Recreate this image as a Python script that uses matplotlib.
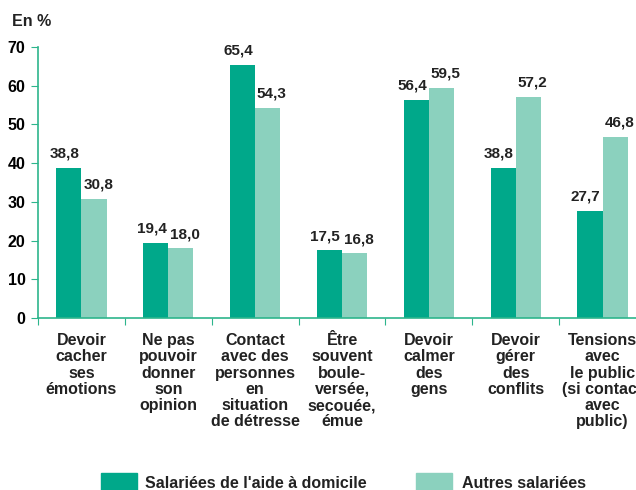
import numpy as np
import matplotlib.pyplot as plt
from matplotlib.patches import Rectangle

# Data ---------------------------------------------------

categories = ["Devoir\ncacher\nses\némotions",
              "Ne pas\npouvoir\ndonner\nson\nopinion",
              "Contact\navec des\npersonnes\nen\nsituation\nde détresse",
              "Être\nsouvent\nboule-\nversée,\nsecouée,\némue",
              "Devoir\ncalmer\ndes\ngens",
              "Devoir\ngérer\ndes\nconflits",
              "Tensions\navec\nle public\n(si contact\navec\npublic)"]
aide_domicile = [38.8, 19.4, 65.4, 17.5, 56.4, 38.8, 27.7]
autres = [30.8, 18.0, 54.3, 16.8, 59.5, 57.2, 46.8]
series_names = ["Salariées de l'aide à domicile", "Autres salariées"]

dark = '#00A88A'
light = '#8BD1BE'
axis_col = '#2DB58C'
txt = '#222222'

plt.rcParams['font.family'] = ['Liberation Sans', 'DejaVu Sans']

fig = plt.figure(figsize=(6.36, 4.9), dpi=100)
ax = fig.add_axes([38/636, 172/490, 608/636, 271/490])

x = np.arange(len(categories))
w = 0.29
b1 = ax.bar(x - w/2, aide_domicile, w, color=dark)
b2 = ax.bar(x + w/2, autres, w, color=light)

for bars, vals, dx in ((b1, aide_domicile, -3), (b2, autres, 3)):
    for r, v in zip(bars, vals):
        ax.annotate(f"{v:.1f}".replace('.', ','),
                    (r.get_x() + r.get_width()/2, v), xytext=(dx, 5),
                    textcoords='offset points', ha='center', va='bottom',
                    fontsize=11, fontweight='bold', color=txt)

ax.set_xlim(-0.5, len(categories) - 0.5)
ax.set_ylim(0, 70)
ax.set_yticks(range(0, 71, 10))
ax.set_xticks(np.arange(len(categories) + 1) - 0.5)
ax.set_xticklabels([])
ax.set_xticks(x, minor=True)
ax.set_xticklabels(categories, minor=True, fontsize=11.5, fontweight='bold',
                   color=txt, linespacing=1.1, va='top', ha='center')
ax.tick_params(axis='x', which='minor', length=0, pad=11)
ax.tick_params(axis='x', which='major', length=5, color=axis_col, direction='out')
ax.tick_params(axis='y', length=5, color=axis_col, labelsize=11.5, pad=4)
for lab in ax.get_yticklabels():
    lab.set_fontweight('bold')

for s in ('top', 'right'):
    ax.spines[s].set_visible(False)
for s in ('left', 'bottom'):
    ax.spines[s].set_color(axis_col)
    ax.spines[s].set_linewidth(1.2)

fig.text(12/636, 1 - 21/490, "En %", fontsize=11.5, fontweight='bold',
         color=txt, va='center')

# Legend
for px, tx, col, name in ((101, 145, dark, series_names[0]),
                          (416, 462, light, series_names[1])):
    fig.add_artist(Rectangle((px/636, 0), 36/636, 17/490,
                             transform=fig.transFigure, color=col))
    fig.text(tx/636, 7/490, name, fontsize=11.5, fontweight='bold',
             color=txt, va='center')

fig.savefig('out.png', dpi=100)
